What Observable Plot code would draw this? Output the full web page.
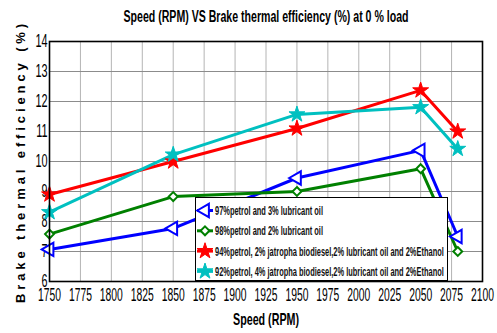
<!DOCTYPE html>
<html>
<head>
<meta charset="utf-8">
<script src="https://cdn.jsdelivr.net/npm/d3@7"></script>
<script src="https://cdn.jsdelivr.net/npm/@observablehq/plot@0.6"></script>
<style>
  html, body { margin: 0; padding: 0; background: white; }
  #wrap { position: relative; width: 497px; height: 333px; overflow: hidden; }
  #legend { position: absolute; left: 195px; top: 197px; }
</style>
</head>
<body>
<div id="wrap"></div>
<script>
const speeds = [1750, 1850, 1950, 2050, 2080];
const seriesNames = [
  "97%petrol and 3% lubricant oil",
  "98%petrol and 2% lubricant oil",
  "94%petrol, 2% jatropha biodiesel,2% lubricant oil and 2%Ethanol",
  "92%petrol, 4% jatropha biodiesel,2% lubricant oil and 2%Ethanol"
];
const blueVals  = [7.07, 7.77, 9.45, 10.37, 7.5];
const greenVals = [7.58, 8.83, 9.0, 9.76, 7.0];
const redVals   = [8.9, 10.0, 11.1, 12.37, 11.0];
const cyanVals  = [8.31, 10.23, 11.57, 11.81, 10.42];
const colors = ["#0000ff", "#008000", "#ff0000", "#00c0c0"];
const xTicks = [1750, 1775, 1800, 1825, 1850, 1875, 1900, 1925, 1950, 1975, 2000, 2025, 2050, 2075, 2100];
const yTicks = [6, 7, 8, 9, 10, 11, 12, 13, 14];
const title = "Speed (RPM) VS Brake thermal efficiency (%) at 0 % load";
const xLabel = "Speed (RPM)";
const yLabel = "Brake thermal efficiency (%)";

const allVals = [blueVals, greenVals, redVals, cyanVals];
const rows = [];
allVals.forEach((vals, i) => vals.forEach((v, j) => rows.push({series: seriesNames[i], speed: speeds[j], value: v})));

const FONT = '"Liberation Sans", Arial, sans-serif';

const markerStyles = [
  {symbol: "triangle", rotate: -90, fill: "white", stroke: colors[0], r: 5, strokeWidth: 2},
  {symbol: "diamond2", rotate: 0, fill: "white", stroke: colors[1], r: 4, strokeWidth: 2},
  {symbol: "star", rotate: 0, fill: colors[2], stroke: colors[2], r: 5, strokeWidth: 1},
  {symbol: "star", rotate: 0, fill: colors[3], stroke: colors[3], r: 5, strokeWidth: 1}
];

const dotMarks = seriesNames.map((name, i) => Plot.dot(rows.filter(d => d.series === name), {
  x: "speed", y: "value", symbol: () => markerStyles[i].symbol, rotate: markerStyles[i].rotate,
  fill: markerStyles[i].fill, stroke: markerStyles[i].stroke, r: markerStyles[i].r, strokeWidth: markerStyles[i].strokeWidth
}));

const chart = Plot.plot({
  width: 497, height: 333,
  marginTop: 41, marginLeft: 49, marginRight: 15, marginBottom: 52,
  style: {fontFamily: FONT, fontSize: "18px", background: "white", color: "black"},
  x: {domain: [1750, 2100], label: null},
  y: {domain: [6, 14], label: null},
  symbol: {type: "identity"},
  color: {domain: seriesNames, range: colors},
  marks: [
    Plot.gridX(xTicks, {stroke: "#b4b4b4", strokeOpacity: 1}),
    Plot.gridY(yTicks, {stroke: "#8c8c8c", strokeOpacity: 1}),
    Plot.axisX(xTicks, {tickSize: 0, tickPadding: 7, tickFormat: d => String(d), fontSize: 18, className: "xt"}),
    Plot.axisY(yTicks, {tickSize: 0, tickPadding: 2, fontSize: 18, className: "yt"}),
    Plot.line(rows, {x: "speed", y: "value", z: "series", stroke: "series", strokeWidth: 3}),
    ...dotMarks,
    Plot.frame({stroke: "black", strokeWidth: 1.6}),
    Plot.text([xLabel], {frameAnchor: "bottom", lineAnchor: "middle", textAnchor: "middle", dy: 38, fontWeight: "bold", fontSize: 17, className: "xl"}),
    Plot.text([title], {frameAnchor: "top", lineAnchor: "middle", textAnchor: "middle", dy: -25, fontWeight: "bold", fontSize: 16, className: "tt"}),
    Plot.text([yLabel], {frameAnchor: "left", lineAnchor: "middle", textAnchor: "middle", rotate: -90, dx: -29, fontWeight: "bold", fontSize: 13, className: "yl"})
  ]
});

const wrap = document.getElementById("wrap");
wrap.appendChild(chart);

const svgSel = d3.select(chart);
function squeeze(sel, factor) {
  sel.each(function() {
    const len = this.getComputedTextLength();
    this.setAttribute("textLength", (len * factor).toFixed(1));
    this.setAttribute("lengthAdjust", "spacingAndGlyphs");
  });
}
function fitTo(sel, width) {
  sel.each(function() {
    this.setAttribute("textLength", width);
    this.setAttribute("lengthAdjust", "spacingAndGlyphs");
  });
}
const tickFactor = 23 / svgSel.select(".xt text").node().getComputedTextLength();
squeeze(svgSel.selectAll(".xt text"), tickFactor);
squeeze(svgSel.selectAll(".yt text"), tickFactor * 1.05);
fitTo(svgSel.selectAll(".tt text"), 285);
fitTo(svgSel.selectAll(".xl text"), 66);
svgSel.selectAll(".yl text").each(function() {
  const len = this.getComputedTextLength();
  const n = yLabel.length;
  this.style.letterSpacing = ((283 - len) / n).toFixed(2) + "px";
});

// Legend overlay (SVG)
const lw = 253, lh = 84;
const leg = d3.create("svg").attr("id", "legend").attr("width", lw).attr("height", lh)
  .style("font-family", FONT);
leg.append("rect").attr("x", 0.5).attr("y", 0.5).attr("width", lw - 1).attr("height", lh - 1)
  .attr("fill", "white").attr("stroke", "black").attr("stroke-width", 1);
const symMap = {triangle: d3.symbolTriangle, diamond2: d3.symbolDiamond2, star: d3.symbolStar};
seriesNames.forEach((name, i) => {
  const cy = 13.5 + i * 20.3;
  leg.append("line").attr("x1", 2).attr("x2", 18).attr("y1", cy).attr("y2", cy)
    .attr("stroke", colors[i]).attr("stroke-width", 3);
  const m = markerStyles[i];
  leg.append("path")
    .attr("d", d3.symbol(symMap[m.symbol], Math.PI * m.r * m.r)())
    .attr("transform", `translate(10,${cy}) rotate(${m.rotate})`)
    .attr("fill", m.fill).attr("stroke", m.stroke).attr("stroke-width", m.strokeWidth);
  leg.append("text").attr("class", "lt").attr("x", 20).attr("y", cy).attr("dy", "0.36em")
    .attr("font-size", 13).attr("font-weight", "bold").attr("fill", "#111").text(name);
});
wrap.appendChild(leg.node());
const firstLen = leg.select(".lt").node().getComputedTextLength();
squeeze(leg.selectAll(".lt"), 108 / firstLen);
</script>
</body>
</html>
